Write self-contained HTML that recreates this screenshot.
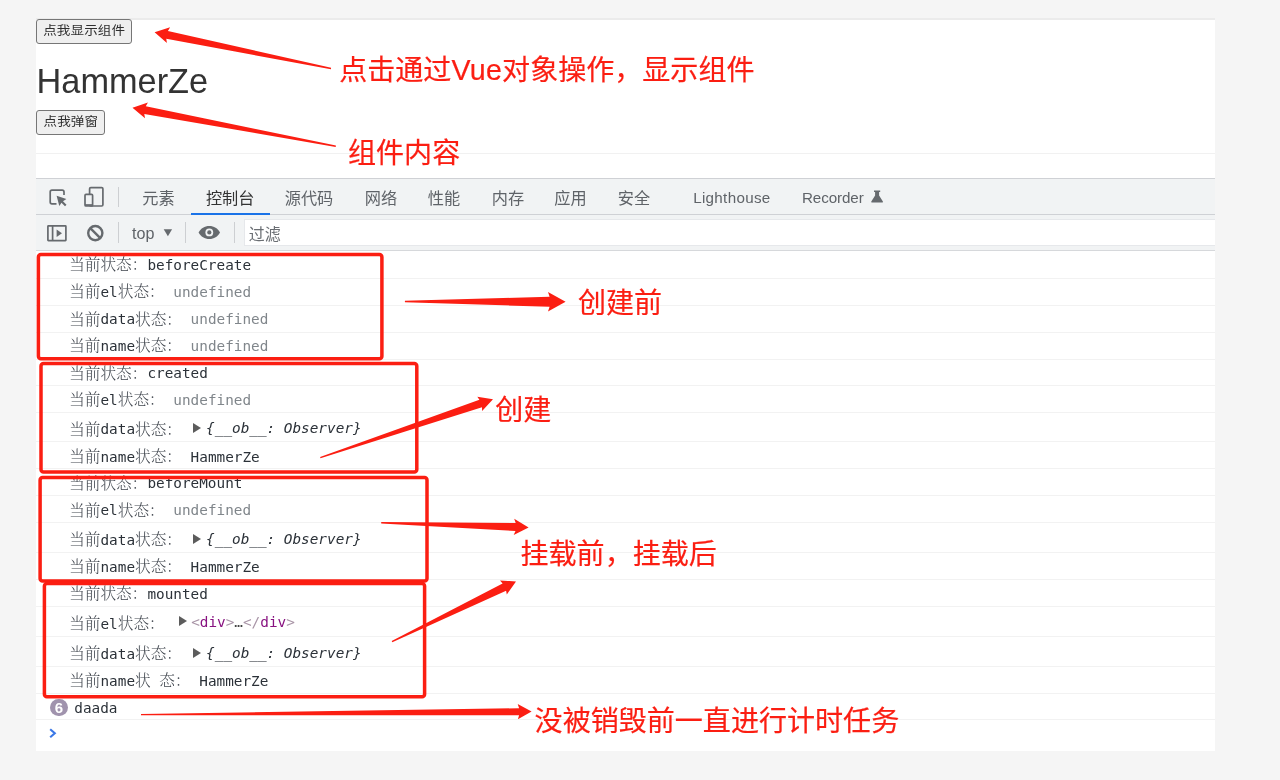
<!DOCTYPE html>
<html lang="zh-CN">
<head>
<meta charset="utf-8">
<title>Vue 生命周期</title>
<style>
html,body{margin:0;padding:0}
body{width:1280px;height:780px;position:relative;overflow:hidden;background:#f5f5f5;font-family:"Liberation Sans","Noto Sans CJK SC",sans-serif}
.abs,.shot *{position:absolute}
.shot{position:absolute;left:36px;top:18px;width:1179px;height:733px;background:#fff}
.wrap{position:absolute;left:0;top:0;width:1280px;height:780px;filter:blur(0.45px)}
.topline{position:absolute;left:36px;top:18px;width:1179px;height:2px;background:#ebebeb}
.btn{position:absolute;box-sizing:border-box;border:1px solid #767676;border-radius:3px;background:#efefef;color:#2e2e2e;letter-spacing:0.1px;font:13.3px/22px "Liberation Sans","Noto Sans CJK SC",sans-serif;text-align:center;white-space:nowrap}
.bt{display:inline-block;transform:scale(1.02,0.93) translateY(0.4px)}
h1{position:absolute;margin:0;left:36.600px;top:61px;font:400 34.3px/40px "Liberation Sans",sans-serif;color:#333;white-space:nowrap}
.hl{position:absolute;left:36px;width:1179px;height:1px;background:#f1f1f1}
.tabbar{position:absolute;left:36px;top:178px;width:1179px;height:37px;background:#f1f3f4;border-top:1px solid #cfd1d5;border-bottom:1px solid #cfd1d5;box-sizing:border-box}
.toolbar{position:absolute;left:36px;top:215px;width:1179px;height:36px;background:#f1f3f4;border-bottom:1px solid #d6d8db;box-sizing:border-box}
.filter{position:absolute;left:243.5px;top:219px;width:971.5px;height:26.500px;background:#fff;box-sizing:border-box;border:1px solid #e6e8eb;border-right:0}
.tab{position:absolute;top:186px;margin-left:-0.300px;font:16.200px/24px "Liberation Sans","Noto Sans CJK SC",sans-serif;color:#5f6368;white-space:nowrap}
.tab.sel{color:#333}
.tab.lat{font-size:15.2px;letter-spacing:-0.1px}
.uline{position:absolute;left:191px;top:212.800px;width:79px;height:2.200px;background:#1a73e8}
.vdiv{position:absolute;width:1px;background:#cdcfd2}
.tb{position:absolute;font:16.100px/24px "Liberation Sans","Noto Sans CJK SC",sans-serif;color:#5f6368;white-space:nowrap}
.row{position:absolute;left:69.2px;height:26px;line-height:26px;font-family:"DejaVu Sans Mono","Liberation Mono","Noto Serif CJK SC",monospace;font-size:14.35px;color:#2b3138;white-space:pre}
.cj{font-family:"Noto Serif CJK SC","Liberation Serif",serif;font-size:15.65px;font-weight:300;color:#40464e;position:relative;top:0.4px}
.un{color:#80868b}
.ob{font-style:italic;color:#2b3138}
.up{position:relative;top:-1.2px}
.up2{position:relative;top:-1.7px}
.el{color:#444}
.tg{color:#a894a6}
.tg b{font-weight:400;color:#881280}
.tri{display:inline-block;width:0;height:0;border-left:8px solid #5c5c5c;border-top:5px solid transparent;border-bottom:5px solid transparent;margin:0 5.5px 0 2px;vertical-align:0px}
.sep{position:absolute;left:36px;width:1179px;height:1px;background:#f2f2f2}
.badge{position:absolute;left:50px;top:698.7px;width:17.6px;height:17.6px;border-radius:50%;background:#a093ad;color:#fff;font:700 15px/17.6px "Liberation Sans",sans-serif;text-align:center}
.red{position:absolute;color:#fb1e12;font-family:"Liberation Sans","Noto Sans CJK SC",sans-serif;font-size:28.05px;line-height:36px;white-space:nowrap;-webkit-text-stroke:0.2px #fb1e12}
svg.ann{position:absolute;left:0;top:0}
</style>
</head>
<body>
<div class="wrap">
<div class="shot"></div>
<div class="topline"></div>

<div class="btn" style="left:36px;top:19px;width:95.6px;height:24.6px"><span class="bt">点我显示组件</span></div>
<h1>HammerZe</h1>
<div class="btn" style="left:36px;top:110.4px;width:68.6px;height:24.4px"><span class="bt">点我弹窗</span></div>
<div class="hl" style="top:153px"></div>

<div class="tabbar"></div>
<div class="toolbar"></div>
<div class="filter"></div>

<svg class="ann" width="1280" height="780" viewBox="0 0 1280 780" fill="none" stroke="#666a6e" stroke-width="1.7">
  <!-- inspect icon -->
  <path d="M56.5 203.8H52a1.8 1.8 0 0 1-1.8-1.8V192a1.8 1.8 0 0 1 1.8-1.8H62.200a1.8 1.8 0 0 1 1.8 1.8v3"/>
  <path d="M56.600 195.700l2.700 10.400 2.200-3.400 3.500 3.500 1.500-1.500-3.500-3.500 3.400-2.200z" fill="#666a6e" stroke="none"/>
  <!-- device icon -->
  <rect x="89.6" y="187.600" width="13.3" height="18.400" rx="1.2"/>
  <rect x="85" y="194.400" width="7.600" height="11.600" rx="1" fill="#f1f3f4"/><line x1="85" y1="205" x2="92.600" y2="205"/>
  <!-- sidebar icon -->
  <rect x="47.9" y="225.900" width="18" height="14.700" rx="0.5"/>
  <line x1="52.6" y1="225.900" x2="52.6" y2="240.600"/>
  <path d="M56.6 229.6v7.4l5.4-3.7z" fill="#666a6e" stroke="none"/>
  <!-- clear icon -->
  <circle cx="95.300" cy="233.100" r="7.100" stroke-width="2.4"/>
  <line x1="90.300" y1="228.100" x2="100.300" y2="238.100" stroke-width="2.4"/>
  <!-- eye -->
  <path d="M198.6 232.4c2.3-4.3 6-6.5 10.7-6.5s8.400 2.200 10.700 6.500c-2.300 4.300-6 6.500-10.700 6.500s-8.400-2.200-10.700-6.500z" fill="#666a6e" stroke="none"/>
  <circle cx="209.3" cy="232.4" r="3.9" fill="#f1f3f4" stroke="none"/>
  <circle cx="209.3" cy="232.4" r="2.1" fill="#666a6e" stroke="none"/>
  <!-- dropdown triangle -->
  <path d="M163.7 229.2h8.400l-4.200 7z" fill="#666a6e" stroke="none"/>
  <!-- flask -->
  <path d="M874 190.600h6.200v1.500h-1.100v3.300l3.800 6.200a0.700 0.700 0 0 1-0.600 1h-10.400a0.700 0.700 0 0 1-0.600-1l3.800-6.200v-3.300h-1.100z" fill="#666a6e" stroke="none"/>
</svg>
<div class="vdiv" style="left:118px;top:186.800px;height:20.500px"></div>
<div class="tab" style="left:142.5px">元素</div>
<div class="tab sel" style="left:206.2px">控制台</div>
<div class="tab" style="left:285px">源代码</div>
<div class="tab" style="left:365px">网络</div>
<div class="tab" style="left:428px">性能</div>
<div class="tab" style="left:492px">内存</div>
<div class="tab" style="left:554.5px">应用</div>
<div class="tab" style="left:618px">安全</div>
<div class="tab lat" style="left:693.5px;letter-spacing:0.3px">Lighthouse</div>
<div class="tab lat" style="left:802.3px">Recorder</div>
<div class="uline"></div>

<div class="vdiv" style="left:118px;top:222.200px;height:20.500px"></div>
<div class="tb" style="left:132px;top:221px">top</div>
<div class="vdiv" style="left:185px;top:222.200px;height:20.500px"></div>
<div class="vdiv" style="left:233.5px;top:222.200px;height:20.500px"></div>
<div class="tb" style="left:248.7px;top:222.5px;font-size:16px;color:#6a6e73">过滤</div>

<div class="sep" style="top:277.5px"></div><div class="sep" style="top:304.7px"></div><div class="sep" style="top:331.8px"></div><div class="sep" style="top:358.5px"></div><div class="sep" style="top:385.0px"></div><div class="sep" style="top:411.7px"></div><div class="sep" style="top:441.0px"></div><div class="sep" style="top:468.3px"></div><div class="sep" style="top:495.4px"></div><div class="sep" style="top:522.2px"></div><div class="sep" style="top:552.0px"></div><div class="sep" style="top:578.8px"></div><div class="sep" style="top:605.9px"></div><div class="sep" style="top:636.3px"></div><div class="sep" style="top:665.8px"></div><div class="sep" style="top:692.7px"></div><div class="sep" style="top:719.0px"></div>
<div class="row" style="top:249.9px"><span class="cj">当前状态：</span>beforeCreate</div><div class="row" style="top:277.0px"><span class="cj">当前</span>el<span class="cj">状态：</span> <span class="un">undefined</span></div><div class="row" style="top:304.2px"><span class="cj">当前</span>data<span class="cj">状态：</span> <span class="un">undefined</span></div><div class="row" style="top:331.1px"><span class="cj">当前</span>name<span class="cj">状态：</span> <span class="un">undefined</span></div><div class="row" style="top:358.2px"><span class="cj">当前状态：</span>created</div><div class="row" style="top:384.8px"><span class="cj">当前</span>el<span class="cj">状态：</span> <span class="un">undefined</span></div><div class="row" style="top:414.2px"><span class="cj">当前</span>data<span class="cj">状态：</span> <span class="up"><span class="tri"></span><i class="ob">{__ob__: Observer}</i></span></div><div class="row" style="top:442.1px"><span class="cj">当前</span>name<span class="cj">状态：</span> HammerZe</div><div class="row" style="top:468.3px"><span class="cj">当前状态：</span>beforeMount</div><div class="row" style="top:495.2px"><span class="cj">当前</span>el<span class="cj">状态：</span> <span class="un">undefined</span></div><div class="row" style="top:524.9px"><span class="cj">当前</span>data<span class="cj">状态：</span> <span class="up"><span class="tri"></span><i class="ob">{__ob__: Observer}</i></span></div><div class="row" style="top:551.8px"><span class="cj">当前</span>name<span class="cj">状态：</span> HammerZe</div><div class="row" style="top:578.7px"><span class="cj">当前状态：</span>mounted</div><div class="row" style="top:608.9px"><span class="cj">当前</span>el<span class="cj">状态：</span> <span class="up2"><span class="tri" style="margin-left:5.8px;margin-right:4px;position:relative;top:-1.3px"></span><span class="tg">&lt;<b>div</b>&gt;</span><span class="el">…</span><span class="tg">&lt;/<b>div</b>&gt;</span></span></div><div class="row" style="top:638.8px"><span class="cj">当前</span>data<span class="cj">状态：</span> <span class="up"><span class="tri"></span><i class="ob">{__ob__: Observer}</i></span></div><div class="row" style="top:665.6px"><span class="cj">当前</span>name<span class="cj">状</span> <span class="cj">态：</span> HammerZe</div>
<div class="badge">6</div>
<div class="row" style="top:694.9px;left:74.3px">daada</div>
<svg class="ann" width="1280" height="780" viewBox="0 0 1280 780"><path d="M50.2 729.2l4.600 4-4.600 4" fill="none" stroke="#3b78e7" stroke-width="2.100"/></svg>

<svg class="ann" width="1280" height="780" viewBox="0 0 1280 780" fill="#fb1e12">
<rect x="38.4" y="254.4" width="343.5" height="104.4" rx="2.5" fill="none" stroke="#fb1e12" stroke-width="3.5"/><rect x="41.0" y="363.6" width="375.8" height="108.4" rx="2.5" fill="none" stroke="#fb1e12" stroke-width="3.5"/><rect x="40.1" y="477.4" width="386.9" height="103.5" rx="2.5" fill="none" stroke="#fb1e12" stroke-width="3.5"/><rect x="44.4" y="583.5" width="380.2" height="113.2" rx="2.5" fill="none" stroke="#fb1e12" stroke-width="3.5"/>
<polygon points="331.1,67.8 167.9,31.0 170.1,27.3 154.6,32.3 166.9,43.0 166.3,38.8 330.9,69.2"/><polygon points="335.9,145.6 145.8,106.2 147.9,102.5 132.5,107.7 145.0,118.2 144.3,114.0 335.7,147.0"/><polygon points="404.9,302.2 549.6,306.8 548.0,311.5 565.6,301.8 548.0,292.1 549.6,296.8 404.9,300.8"/><polygon points="320.5,458.3 482.0,407.2 482.1,410.9 493.0,399.3 477.3,396.7 479.4,399.7 320.1,456.9"/><polygon points="381.2,523.5 515.5,531.0 513.7,535.1 528.6,527.4 514.2,518.7 515.7,523.0 381.2,522.1"/><polygon points="392.3,642.2 506.1,590.7 506.8,594.5 516.0,581.4 500.0,580.5 502.6,583.5 391.7,641.0"/><polygon points="141.0,715.3 519.1,715.2 517.9,719.3 531.6,711.6 517.7,704.1 519.1,708.2 141.0,713.9"/>
</svg>
<div class="red" style="left:339.2px;top:52.2px">点击通过<span style="font-size:28.6px;letter-spacing:0.3px">Vue</span>对象操作，显示组件</div>
<div class="red" style="left:348px;top:136.2px">组件内容</div>
<div class="red" style="left:578px;top:285.6px">创建前</div>
<div class="red" style="left:495.2px;top:392.6px">创建</div>
<div class="red" style="left:520.5px;top:536.7px">挂载前，挂载后</div>
<div class="red" style="left:534.6px;top:703.8px">没被销毁前一直进行计时任务</div>
</div>
</body>
</html>
